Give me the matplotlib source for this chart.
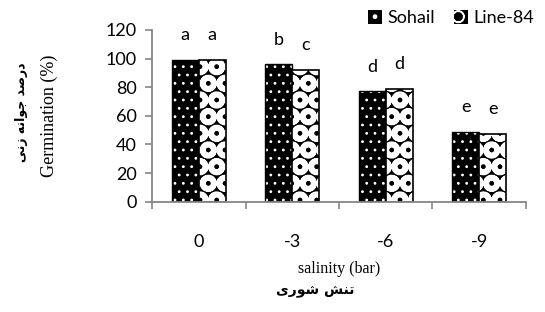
import matplotlib
matplotlib.use('Agg')
import matplotlib.pyplot as plt
import numpy as np
from matplotlib.patches import Patch

# data
salinity = ['0', '-3', '-6', '-9']
sohail = [99, 96, 77, 49]
line84 = [99, 92, 79, 47.5]
sohail_letters = ['a', 'b', 'd', 'e']
line84_letters = ['a', 'c', 'd', 'e']

# persian labels written in visual order with presentation forms
fa_ylabel = '\uFEF0\uFEE7\uFEAF \uFEEA\uFEE7\uFE8D\uFEEE\uFE9F \uFEAA\uFEBB\uFEAD\uFEA9'
fa_xlabel = '\uFEEF\uFEAD\uFEEE\uFEB7 \uFEB6\uFEE8\uFE97'

tick_font = 'Lato'
gray = '#868686'

fig = plt.figure(figsize=(5.45, 3.12), dpi=100)
ax = fig.add_axes([0.279, 0.3535, 0.686, 0.5505])

x = np.arange(len(salinity))
w = 0.29

# Sohail: black with small white dots
with plt.rc_context({'hatch.linewidth': 0.8}):
    ax.bar(x - w / 2, sohail, w, color='black', edgecolor='white', hatch='..', linewidth=0)
    h1 = Patch(facecolor='black', edgecolor='white', hatch='.', linewidth=0)
ax.bar(x - w / 2, sohail, w, fill=False, edgecolor='black', linewidth=1)
# Line-84: white scallops on black
with plt.rc_context({'hatch.linewidth': 4.0}):
    ax.bar(x + w / 2, line84, w, color='black', edgecolor='white', hatch='O', linewidth=0)
    h2 = Patch(facecolor='black', edgecolor='white', hatch='O', linewidth=0)
ax.bar(x + w / 2, line84, w, fill=False, edgecolor='black', linewidth=1.2)

for i in range(len(salinity)):
    ax.annotate(sohail_letters[i], (x[i] - w / 2, sohail[i]), xytext=(0, 12),
                textcoords='offset points', ha='center', va='bottom',
                fontsize=13, family=tick_font)
    ax.annotate(line84_letters[i], (x[i] + w / 2, line84[i]), xytext=(0, 12),
                textcoords='offset points', ha='center', va='bottom',
                fontsize=13, family=tick_font)

ax.set_xlim(-0.5, 3.5)
ax.set_ylim(0, 120)
ax.set_yticks(range(0, 121, 20))
ax.set_xticks(x)
ax.set_xticklabels(salinity)
ax.set_xticks(np.arange(-0.5, 4, 1), minor=True)
ax.tick_params(axis='x', which='major', length=0, pad=23)
ax.tick_params(axis='x', which='minor', length=5, color=gray, width=1.2)
ax.tick_params(axis='y', length=5, color=gray, width=1.2, direction='out', pad=6)
for lab in ax.get_xticklabels() + ax.get_yticklabels():
    lab.set_family(tick_font)
    lab.set_fontsize(13)

for s in ['top', 'right']:
    ax.spines[s].set_visible(False)
for s in ['left', 'bottom']:
    ax.spines[s].set_color(gray)
    ax.spines[s].set_linewidth(1.3)

ax.set_ylabel('Germination (%)', family='Liberation Serif', fontsize=13, va='center')
ax.yaxis.set_label_coords(-0.275, 0.5)
ax.set_xlabel('salinity (bar)', family='Liberation Serif', fontsize=11.5, labelpad=8)
fig.text(0.04, 0.64, fa_ylabel, rotation=90, ha='center', va='center',
         family='DejaVu Sans', fontsize=9, fontweight='bold')
fig.text(0.578, 0.066, fa_xlabel, ha='center', va='center',
         family='DejaVu Sans', fontsize=10, fontweight='bold')

fig.legend([h1, h2], ['Sohail', 'Line-84'], loc='upper right', bbox_to_anchor=(1.01, 1.02),
           ncol=2, frameon=False, prop={'family': tick_font, 'size': 13},
           handlelength=0.8, handleheight=0.8, handletextpad=0.3, columnspacing=1.0)

fig.savefig('out.png', dpi=100)
